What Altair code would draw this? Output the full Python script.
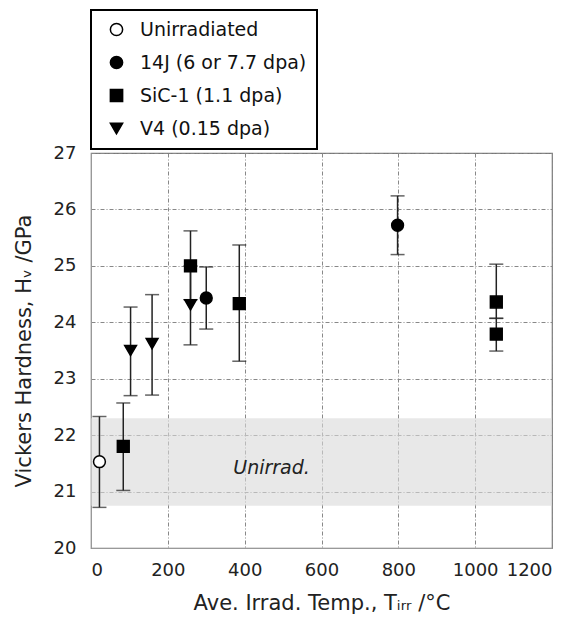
import altair as alt
import pandas as pd

# ---- data ----
series = ["Unirradiated", "SiC-1 (1.1 dpa)", "V4 (0.15 dpa)", "V4 (0.15 dpa)",
          "SiC-1 (1.1 dpa)", "V4 (0.15 dpa)", "14J (6 or 7.7 dpa)", "SiC-1 (1.1 dpa)",
          "14J (6 or 7.7 dpa)", "SiC-1 (1.1 dpa)", "SiC-1 (1.1 dpa)"]
temps = [22, 84, 103, 159, 259, 259, 300, 386, 798, 1055, 1055]
hv = [21.53, 21.80, 23.50, 23.62, 25.00, 24.31, 24.43, 24.33, 25.72, 24.36, 23.79]
hv_lo = [20.72, 21.02, 22.70, 22.71, 24.40, 23.60, 23.88, 23.31, 25.20, 24.07, 23.49]
hv_hi = [22.33, 22.57, 24.27, 24.49, 25.62, 25.00, 24.98, 25.37, 26.24, 25.03, 24.07]

band_lo = [20.75]
band_hi = [22.30]
band_label = ["Unirrad."]
band_label_x = [470]
band_label_y = [21.42]

legend_order = ["Unirradiated", "14J (6 or 7.7 dpa)", "SiC-1 (1.1 dpa)", "V4 (0.15 dpa)"]
legend_shapes = ["circle", "circle", "square", "triangle-down"]
legend_fills = ["white", "black", "black", "black"]
legend_strokes = ["black", "black", "black", "black"]

x_ticks = [0, 200, 400, 600, 800, 1000, 1200]
y_ticks = [20, 21, 22, 23, 24, 25, 26, 27]

FONT = "DejaVu Sans"

df = pd.DataFrame({"series": series, "temp": temps, "hv": hv, "lo": hv_lo, "hi": hv_hi})
band_df = pd.DataFrame({"lo": band_lo, "hi": band_hi, "label": band_label,
                        "lx": band_label_x, "ly": band_label_y})

xscale = alt.Scale(domain=[0, 1200], nice=False, zero=False)
yscale = alt.Scale(domain=[20, 27], nice=False, zero=False)

common_axis = dict(
    format="d", grid=True, ticks=False,
    labelFontSize=18, titleFontSize=21,
    gridDash=[4, 2, 1, 2], gridColor="#888", gridWidth=1,
    domainColor="#999", labelColor="#222", titleColor="#222",
    labelFont=FONT, titleFont=FONT, titleFontWeight="normal",
)
x_axis = alt.Axis(values=x_ticks, title="Ave. Irrad. Temp., Tᵢᵣᵣ /°C",
                  labelPadding=13, titlePadding=13, **common_axis)
y_axis = alt.Axis(values=y_ticks, title="Vickers Hardness, Hᵥ /GPa",
                  labelPadding=15, titlePadding=19, **common_axis)

band = alt.Chart(band_df).mark_rect(color="#d9d9d9", opacity=0.6).encode(
    x=alt.datum(0, scale=xscale, axis=x_axis, type="quantitative"),
    x2=alt.datum(1200),
    y=alt.Y("lo:Q", scale=yscale, axis=y_axis),
    y2="hi:Q",
)

band_text = alt.Chart(band_df).mark_text(
    font=FONT, fontSize=19, fontStyle="italic", color="#222"
).encode(x=alt.X("lx:Q", scale=xscale), y=alt.Y("ly:Q", scale=yscale), text="label:N")

err = alt.Chart(df).mark_rule(color="#222", strokeWidth=1.5).encode(
    x=alt.X("temp:Q", scale=xscale), y=alt.Y("lo:Q", scale=yscale), y2="hi:Q")
cap_lo = alt.Chart(df).mark_tick(color="#222", orient="horizontal", size=14, thickness=1.5).encode(
    x=alt.X("temp:Q", scale=xscale), y=alt.Y("lo:Q", scale=yscale))
cap_hi = alt.Chart(df).mark_tick(color="#222", orient="horizontal", size=14, thickness=1.5).encode(
    x=alt.X("temp:Q", scale=xscale), y=alt.Y("hi:Q", scale=yscale))

leg = alt.Legend(title=None)
points = alt.Chart(df).mark_point(filled=False, size=140, strokeWidth=1.5, opacity=1).encode(
    x=alt.X("temp:Q", scale=xscale),
    y=alt.Y("hv:Q", scale=yscale),
    shape=alt.Shape("series:N", scale=alt.Scale(domain=legend_order, range=legend_shapes),
                    sort=legend_order, legend=leg),
    fill=alt.Fill("series:N", scale=alt.Scale(domain=legend_order, range=legend_fills),
                  sort=legend_order, legend=leg),
    stroke=alt.Stroke("series:N", scale=alt.Scale(domain=legend_order, range=legend_strokes),
                      sort=legend_order, legend=leg),
)

chart = alt.layer(band, band_text, err, cap_lo, cap_hi, points).properties(
    width=461, height=395,
    autosize=alt.AutoSizeParams(type="none"),
    padding={"left": 83, "top": 145, "right": 18, "bottom": 73},
).configure_view(stroke="#777", strokeWidth=1.2).configure_legend(
    orient="none", legendX=0, legendY=-143,
    fillColor="white", strokeColor="black", strokeWidth=2,
    padding=10, labelFont=FONT, labelFontSize=19, labelColor="#111", labelLimit=400,
    symbolSize=150, symbolStrokeWidth=1.5,
    rowPadding=13, labelOffset=14, symbolOffset=6,
)

chart.save("out.html", embed_options={"renderer": "svg", "actions": False})
